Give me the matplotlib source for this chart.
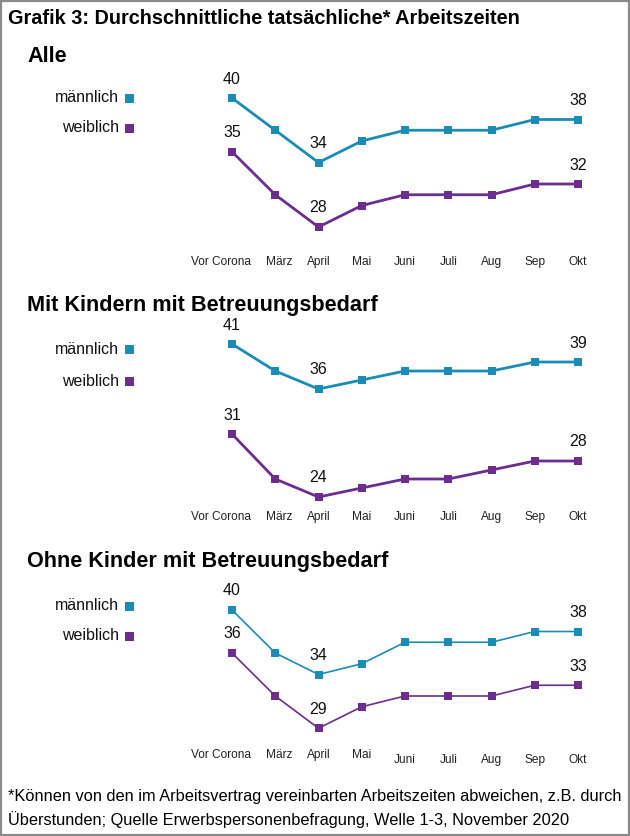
import matplotlib
matplotlib.use("Agg")
import matplotlib.pyplot as plt
from matplotlib.patches import Rectangle
import matplotlib.transforms as mtrans

plt.rcParams['font.family'] = ['Liberation Sans', 'DejaVu Sans']

W, H = 630, 836
months = ["Vor Corona", "März", "April", "Mai", "Juni", "Juli", "Aug", "Sep", "Okt"]

panel_titles = ["Alle", "Mit Kindern mit Betreuungsbedarf", "Ohne Kinder mit Betreuungsbedarf"]
alle_m = [40, 37, 34, 36, 37, 37, 37, 38, 38]
alle_w = [35, 31, 28, 30, 31, 31, 31, 32, 32]
kinder_m = [41, 38, 36, 37, 38, 38, 38, 39, 39]
kinder_w = [31, 26, 24, 25, 26, 26, 27, 28, 28]
ohne_m = [40, 36, 34, 35, 37, 37, 37, 38, 38]
ohne_w = [36, 32, 29, 31, 32, 32, 32, 33, 33]

series = [(alle_m, alle_w), (kinder_m, kinder_w), (ohne_m, ohne_w)]
label_idx = [0, 2, 8]

c_m = "#1a8cb6"
c_w = "#6c2d8e"

fig = plt.figure(figsize=(W / 100, H / 100), dpi=100)
fig.patches.append(Rectangle((0.0015, 0.0015), 0.997, 0.997, transform=fig.transFigure,
                             fill=False, edgecolor="#8a8a8a", linewidth=1.6))

fig.text(8 / W, 1 - 19 / H, "Grafik 3: Durchschnittliche tatsächliche* Arbeitszeiten",
         fontsize=14.3, fontweight="bold", ha="left", va="center")

geo = [
    dict(v0=40, y0=98, ppu=10.75, top=60, bot=250, ty=57, ly=(98, 128), lw=2.0, low=0),
    dict(v0=41, y0=344, ppu=9.0, top=310, bot=505, ty=305, ly=(349, 381), lw=2.0, low=0),
    dict(v0=40, y0=610, ppu=10.75, top=575, bot=743, ty=562, ly=(606, 636), lw=1.2, low=5),
]

x_left_c, x_right_c = 232, 578
step = (x_right_c - x_left_c) / (len(months) - 1)
ax_l = x_left_c - step * 0.5
ax_r = x_right_c + step * 0.5

for (m, w), g, title in zip(series, geo, panel_titles):
    ax = fig.add_axes([ax_l / W, 1 - g["bot"] / H, (ax_r - ax_l) / W, (g["bot"] - g["top"]) / H])
    ytop = g["v0"] + (g["y0"] - g["top"]) / g["ppu"]
    ybot = g["v0"] - (g["bot"] - g["y0"]) / g["ppu"]
    ax.set_xlim(-0.5, len(months) - 0.5)
    ax.set_ylim(ybot, ytop)
    xs = list(range(len(months)))
    for vals, col in ((m, c_m), (w, c_w)):
        ax.plot(xs, vals, color=col, lw=g["lw"], marker="s", markersize=6.3,
                markeredgewidth=0, zorder=3, clip_on=False)
        for i in label_idx:
            ax.annotate(str(vals[i]), (xs[i], vals[i]), xytext=(0, 19),
                        textcoords="offset pixels", ha="center", va="center",
                        fontsize=11.5, color="#111111")
    ax.set_xticks(xs)
    ax.set_xticklabels(months, fontsize=8.6, color="#222222")
    ax.tick_params(axis="x", length=0, pad=4)
    for i, lab in enumerate(ax.get_xticklabels()):
        dx = -11 if i == 0 else (4 if i == 1 else 0)
        dy = -g["low"] if i >= 4 else 0
        lab.set_transform(lab.get_transform() +
                          mtrans.ScaledTranslation(dx / 100, dy / 100, fig.dpi_scale_trans))
    ax.set_yticks([])
    for s in ax.spines.values():
        s.set_visible(False)
    ax.patch.set_alpha(0)

    fig.text(27 / W, 1 - g["ty"] / H, title, fontsize=15.6, fontweight="bold",
             ha="left", va="center")
    for name, col, ly in (("männlich", c_m, g["ly"][0]), ("weiblich", c_w, g["ly"][1])):
        fig.text(119 / W, 1 - ly / H, name, fontsize=11.5, ha="right", va="center",
                 color="#111111")
        fig.patches.append(Rectangle((125 / W, 1 - (ly + 4.5) / H), 9 / W, 9 / H,
                                     transform=fig.transFigure, facecolor=col,
                                     edgecolor="none"))

fig.text(8 / W, 1 - 797 / H,
         "*Können von den im Arbeitsvertrag vereinbarten Arbeitszeiten abweichen, z.B. durch",
         fontsize=11.8, ha="left", va="center")
fig.text(8 / W, 1 - 820 / H,
         "Überstunden; Quelle Erwerbspersonenbefragung, Welle 1-3, November 2020",
         fontsize=11.8, ha="left", va="center")

fig.savefig("out.png", dpi=100)
